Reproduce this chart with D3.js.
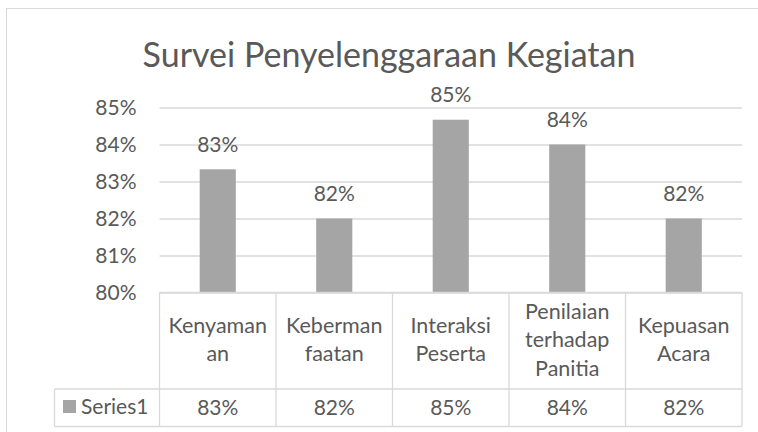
<!DOCTYPE html>
<html>
<head>
<meta charset="utf-8">
<script src="https://cdn.jsdelivr.net/npm/d3@7"></script>
<style>
  body { margin: 0; background: #fff; }
  text { font-family: Lato, "Open Sans", sans-serif; fill: #595959; }
</style>
</head>
<body>
<svg id="chart" width="758" height="432"></svg>
<script>
const categories = ["Kenyamanan", "Kebermanfaatan", "Interaksi Peserta", "Penilaian terhadap Panitia", "Kepuasan Acara"];
// how the category cells wrap the names
const categoryLines = [["Kenyaman", "an"], ["Keberman", "faatan"], ["Interaksi", "Peserta"], ["Penilaian", "terhadap", "Panitia"], ["Kepuasan", "Acara"]];
const series1 = [0.8333, 0.82, 0.8467, 0.84, 0.82];
const yTicks = [0.80, 0.81, 0.82, 0.83, 0.84, 0.85];
const seriesName = "Series1";
const title = "Survei Penyelenggaraan Kegiatan";

const svg = d3.select("#chart");
const pct = d3.format(".0%");
const grid = "#d9d9d9";
const barColor = "#a5a5a5";

const plot = { left: 159.5, right: 742, top: 107.5, bottom: 292.5 };
const tableBottom = 426.5;
const rowSplit = 389;
const keyLeft = 54.5;

// chart frame
svg.append("rect")
  .attr("x", 6.5).attr("y", 8.5)
  .attr("width", 780).attr("height", 450)
  .attr("fill", "#fff")
  .attr("stroke", grid);

svg.append("text")
  .attr("x", 389).attr("y", 67)
  .attr("text-anchor", "middle")
  .style("font-size", "34px")
  .text(title);

const x = d3.scaleBand()
  .domain(categories)
  .range([plot.left, plot.right]);

const y = d3.scaleLinear()
  .domain([0.80, 0.85])
  .range([plot.bottom, plot.top]);

// gridlines + axis labels
const yAxis = svg.append("g")
  .attr("transform", `translate(${plot.left},0)`)
  .call(d3.axisLeft(y).tickValues(yTicks).tickFormat(pct)
    .tickSize(-(plot.right - plot.left)).tickPadding(23));
yAxis.select(".domain").remove();
yAxis.selectAll(".tick line").attr("stroke", grid).attr("stroke-width", 1.3);
yAxis.selectAll(".tick text")
  .attr("fill", "#595959")
  .style("font-family", "Lato")
  .style("font-size", "21px");

const barW = x.bandwidth() * 0.31;

svg.selectAll("rect.bar")
  .data(series1)
  .enter()
  .append("rect")
  .attr("class", "bar")
  .attr("x", (d, i) => x(categories[i]) + (x.bandwidth() - barW) / 2)
  .attr("y", d => y(d))
  .attr("width", barW)
  .attr("height", d => y(0.80) - y(d))
  .attr("fill", barColor);

svg.selectAll("text.value")
  .data(series1)
  .enter()
  .append("text")
  .attr("class", "value")
  .attr("x", (d, i) => x(categories[i]) + x.bandwidth() / 2)
  .attr("y", d => y(d) - 17.5)
  .attr("text-anchor", "middle")
  .style("font-size", "21px")
  .text(d => pct(d));

// data table
const table = svg.append("g")
  .attr("fill", "none")
  .attr("stroke", grid)
  .attr("stroke-width", 1.3);

table.append("line")
  .attr("x1", plot.left).attr("x2", plot.right)
  .attr("y1", plot.bottom).attr("y2", plot.bottom);
table.append("line")
  .attr("x1", keyLeft).attr("x2", plot.right)
  .attr("y1", rowSplit).attr("y2", rowSplit);
table.append("line")
  .attr("x1", keyLeft).attr("x2", plot.right)
  .attr("y1", tableBottom).attr("y2", tableBottom);
table.append("line")
  .attr("x1", keyLeft).attr("x2", keyLeft)
  .attr("y1", rowSplit).attr("y2", tableBottom);

table.selectAll("line.col")
  .data(categories.concat([null]))
  .enter()
  .append("line")
  .attr("class", "col")
  .attr("x1", d => d ? x(d) : plot.right)
  .attr("x2", d => d ? x(d) : plot.right)
  .attr("y1", plot.bottom)
  .attr("y2", tableBottom);

const lh = 28.3;
const cellMid = (plot.bottom + rowSplit) / 2;

svg.selectAll("text.cat")
  .data(categoryLines)
  .enter()
  .append("text")
  .attr("class", "cat")
  .attr("text-anchor", "middle")
  .style("font-size", "21.5px")
  .each(function(lines, i) {
    const first = cellMid - (lines.length - 1) * lh / 2 + 6.5;
    d3.select(this).selectAll("tspan")
      .data(lines)
      .enter()
      .append("tspan")
      .attr("x", x(categories[i]) + x.bandwidth() / 2)
      .attr("y", (l, j) => first + j * lh)
      .text(l => l);
  });

svg.selectAll("text.cell")
  .data(series1)
  .enter()
  .append("text")
  .attr("class", "cell")
  .attr("x", (d, i) => x(categories[i]) + x.bandwidth() / 2)
  .attr("y", 415)
  .attr("text-anchor", "middle")
  .style("font-size", "21px")
  .text(d => pct(d));

svg.append("rect")
  .attr("x", 63).attr("y", 400)
  .attr("width", 13).attr("height", 13)
  .attr("fill", barColor);

svg.append("text")
  .attr("x", 81).attr("y", 414)
  .style("font-size", "21px")
  .text(seriesName);
</script>
</body>
</html>
